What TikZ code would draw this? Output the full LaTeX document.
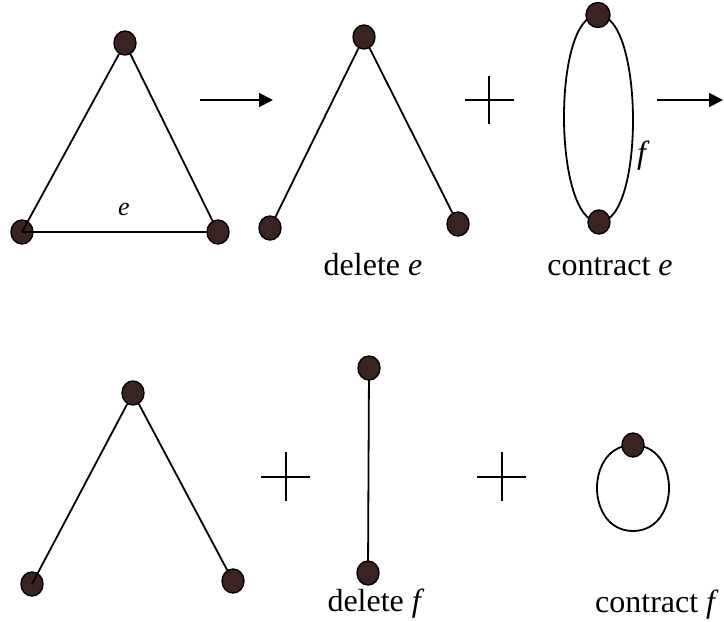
\documentclass[tikz,border=0pt]{standalone}
\usepackage{fontspec}
\setmainfont{Liberation Serif}
\usetikzlibrary{shapes.geometric,arrows.meta,backgrounds}
\definecolor{vfill}{HTML}{3B2322}
\tikzset{
  vtx/.style={ellipse,draw=black,line width=1.4pt,fill=vfill,minimum width=22pt,minimum height=24pt,inner sep=0pt},
  edge/.style={draw=black,line width=1.8pt},
  arr/.style={draw=black,line width=1.8pt,-{Triangle[length=14pt,width=14pt]}},
  lbl/.style={anchor=base,inner sep=0pt,font=\fontsize{32}{38}\selectfont},
  small/.style={anchor=base,inner sep=0pt,font=\fontsize{26}{30}\selectfont}
}
\begin{document}
\begin{tikzpicture}[x=1pt,y=-1pt]
\useasboundingbox (0,0) rectangle (724,622);
% triangle
\node[vtx] (t1) at (125,43) {};
\node[vtx] (t2) at (22,232) {};
\node[vtx] (t3) at (218,232) {};
\begin{scope}[on background layer]
\draw[edge] (t1.center) -- (t3.center);
\end{scope}
\draw[edge] (t1) -- (t2.center);
\draw[edge] (t2.center) -- (t3);
\node[small] (le) at (124,215) {\textit{e}};
% arrow 1
\coordinate (a1s) at (200,100);
\coordinate (a1e) at (273,100);
\draw[arr] (a1s) -- (a1e);
% delete e
\node[vtx] (d1) at (364,37) {};
\node[vtx] (d2) at (270,228) {};
\node[vtx] (d3) at (458,224) {};
\begin{scope}[on background layer]
\draw[edge] (d1.center) -- (d2.center);
\draw[edge] (d1.center) -- (d3.center);
\end{scope}
\node[lbl] (tde) at (373,275) {delete \textit{e}};
% plus 1
\coordinate (p1l) at (465,100);
\coordinate (p1r) at (514,100);
\coordinate (p1t) at (489,76);
\coordinate (p1b) at (489,124);
\draw[edge] (p1l) -- (p1r);
\draw[edge] (p1t) -- (p1b);
% contract e
\node[vtx,minimum width=24pt,minimum height=25pt] (c1) at (598,15) {};
\node[vtx] (c2) at (599,222) {};
\begin{scope}[on background layer]
\draw[edge] (c1.center) .. controls +(-46,0) and +(-46,0) .. (c2.center);
\draw[edge] (c1.center) .. controls +(46,0) and +(46,0) .. (c2.center);
\end{scope}
\node[anchor=base west,inner sep=0pt,font=\fontsize{32}{38}\selectfont] (lf) at (637,163) {\textit{f}};
\node[lbl] (tce) at (610,275) {contract \textit{e}};
% arrow 2
\coordinate (a2s) at (657,100);
\coordinate (a2e) at (723,100);
\draw[arr] (a2s) -- (a2e);
% bottom wedge
\node[vtx] (w1) at (133,393) {};
\node[vtx] (w2) at (32,584) {};
\node[vtx] (w3) at (233,581) {};
\begin{scope}[on background layer]
\draw[edge] (w1.center) -- (w3.center);
\end{scope}
\draw[edge] (w1) -- (w2.center);
% plus 2
\coordinate (p2l) at (261,477);
\coordinate (p2r) at (310,477);
\coordinate (p2t) at (286,452);
\coordinate (p2b) at (286,501);
\draw[edge] (p2l) -- (p2r);
\draw[edge] (p2t) -- (p2b);
% delete f
\node[vtx] (v1) at (369,368) {};
\node[vtx] (v2) at (368,573) {};
\begin{scope}[on background layer]
\draw[edge] (v1.center) -- (v2.center);
\end{scope}
\node[lbl] (tdf) at (376,611) {delete \textit{f}};
% plus 3
\coordinate (p3l) at (477,477);
\coordinate (p3r) at (526,477);
\coordinate (p3t) at (502,452);
\coordinate (p3b) at (502,501);
\draw[edge] (p3l) -- (p3r);
\draw[edge] (p3t) -- (p3b);
% contract f (loop)
\node[vtx] (lv) at (633,445) {};
\coordinate (lb) at (633,531);
\begin{scope}[on background layer]
\draw[edge] (lv.center) .. controls +(-48,0) and +(-48,0) .. (lb) .. controls +(48,0) and +(48,0) .. (lv.center);
\end{scope}
\node[lbl] (tcf) at (657,612) {contract \textit{f}};
\end{tikzpicture}
\end{document}
